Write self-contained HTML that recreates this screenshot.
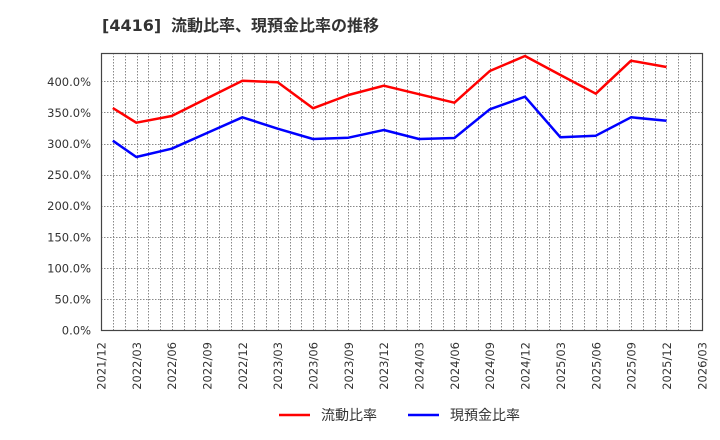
<!DOCTYPE html>
<html><head><meta charset="utf-8"><style>
html,body{margin:0;padding:0;background:#fff;}
body{width:720px;height:440px;overflow:hidden;position:relative;}
svg{position:absolute;left:0;top:0;}
</style></head><body>
<svg width="720" height="440" viewBox="0 0 720 440" xmlns="http://www.w3.org/2000/svg">
<rect x="0" y="0" width="720" height="440" fill="#fff"/>
<text x="102" y="31" font-family="'DejaVu Sans','Liberation Sans',sans-serif" font-weight="bold" font-size="16" fill="#333">[4416]</text>
<text x="171" y="31" font-family="'Liberation Sans','Noto Sans CJK JP',sans-serif" font-weight="bold" font-size="16" fill="#333">流動比率、現預金比率の推移</text>
<g stroke="#888" stroke-width="1" stroke-dasharray="1.5,1.5" fill="none">
<path d="M113.5 53V330M125.5 53V330M137.5 53V330M148.5 53V330M160.5 53V330M172.5 53V330M184.5 53V330M195.5 53V330M207.5 53V330M219.5 53V330M231.5 53V330M242.5 53V330M254.5 53V330M266.5 53V330M278.5 53V330M290.5 53V330M301.5 53V330M313.5 53V330M325.5 53V330M337.5 53V330M348.5 53V330M360.5 53V330M372.5 53V330M384.5 53V330M396.5 53V330M407.5 53V330M419.5 53V330M431.5 53V330M443.5 53V330M454.5 53V330M466.5 53V330M478.5 53V330M490.5 53V330M501.5 53V330M513.5 53V330M525.5 53V330M537.5 53V330M549.5 53V330M560.5 53V330M572.5 53V330M584.5 53V330M596.5 53V330M607.5 53V330M619.5 53V330M631.5 53V330M643.5 53V330M655.5 53V330M666.5 53V330M678.5 53V330M690.5 53V330"/>
<path d="M101 299.5H702M101 268.5H702M101 237.5H702M101 206.5H702M101 175.5H702M101 144.5H702M101 112.5H702M101 81.5H702"/>
</g>
<rect x="101.5" y="53.5" width="601" height="277" fill="none" stroke="#444" stroke-width="1.2"/>
<g font-family="'DejaVu Sans','Liberation Sans',sans-serif" font-size="11.5" fill="#333" text-anchor="end">
<text x="91" y="334.5">0.0%</text>
<text x="91" y="303.5">50.0%</text>
<text x="91" y="272.5">100.0%</text>
<text x="91" y="241.5">150.0%</text>
<text x="91" y="210">200.0%</text>
<text x="91" y="179">250.0%</text>
<text x="91" y="148">300.0%</text>
<text x="91" y="117">350.0%</text>
<text x="91" y="86">400.0%</text>
</g>
<g font-family="'DejaVu Sans','Liberation Sans',sans-serif" font-size="11.5" fill="#333" text-anchor="end">
<text transform="translate(105.5,342) rotate(-90)">2021/12</text>
<text transform="translate(140.8,342) rotate(-90)">2022/03</text>
<text transform="translate(176.2,342) rotate(-90)">2022/06</text>
<text transform="translate(211.5,342) rotate(-90)">2022/09</text>
<text transform="translate(246.9,342) rotate(-90)">2022/12</text>
<text transform="translate(282.2,342) rotate(-90)">2023/03</text>
<text transform="translate(317.5,342) rotate(-90)">2023/06</text>
<text transform="translate(352.9,342) rotate(-90)">2023/09</text>
<text transform="translate(388.2,342) rotate(-90)">2023/12</text>
<text transform="translate(423.6,342) rotate(-90)">2024/03</text>
<text transform="translate(458.9,342) rotate(-90)">2024/06</text>
<text transform="translate(494.2,342) rotate(-90)">2024/09</text>
<text transform="translate(529.6,342) rotate(-90)">2024/12</text>
<text transform="translate(564.9,342) rotate(-90)">2025/03</text>
<text transform="translate(600.3,342) rotate(-90)">2025/06</text>
<text transform="translate(635.6,342) rotate(-90)">2025/09</text>
<text transform="translate(670.9,342) rotate(-90)">2025/12</text>
<text transform="translate(706.3,342) rotate(-90)">2026/03</text>
</g>
<polyline fill="none" stroke="#ff0000" stroke-width="2.5" stroke-linejoin="round" points="112.8,108 136.3,122.7 171.7,116 207,98.4 242.4,80.7 277.7,82.3 313,108.3 348.4,95 383.8,85.7 419,94.2 454.4,102.7 489.8,71 525,56 560.4,75 595.8,93.7 631,60.7 666.5,67"/>
<polyline fill="none" stroke="#0000ff" stroke-width="2.5" stroke-linejoin="round" points="112.8,140.7 136.3,157 171.7,148.7 207,133 242.4,117.3 277.7,128.7 313,139 348.4,137.7 383.8,130 419,139 454.4,138 489.8,109.3 525,96.7 560.4,137.3 595.8,135.7 631,117.3 666.5,120.7"/>
<line x1="279" y1="415" x2="310" y2="415" stroke="#ff0000" stroke-width="2.5"/>
<text x="321" y="420" font-family="'Liberation Sans','Noto Sans CJK JP',sans-serif" font-size="14" fill="#333">流動比率</text>
<line x1="408" y1="415" x2="439" y2="415" stroke="#0000ff" stroke-width="2.5"/>
<text x="450" y="420" font-family="'Liberation Sans','Noto Sans CJK JP',sans-serif" font-size="14" fill="#333">現預金比率</text>
</svg>
</body></html>
